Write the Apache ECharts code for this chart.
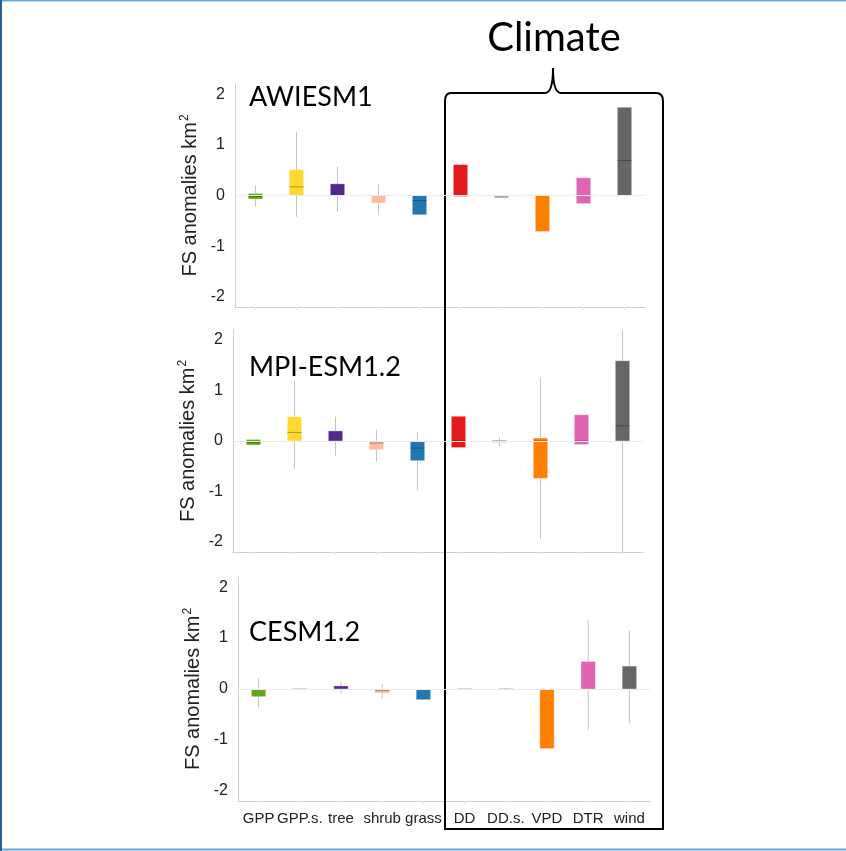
<!DOCTYPE html>
<html>
<head>
<meta charset="utf-8">
<script src="https://cdn.jsdelivr.net/npm/echarts@6/dist/echarts.min.js"></script>
<style>
  html, body { margin: 0; padding: 0; background: #fff; }
  #chart { width: 846px; height: 851px; }
</style>
</head>
<body>
<div id="chart"></div>
<script>
// categories and colours, shared by the three panels
const categories = ['GPP', 'GPP.s.', 'tree', 'shrub', 'grass', 'DD', 'DD.s.', 'VPD', 'DTR', 'wind'];
const boxColors = ['#66a61e', '#ffd92f', '#54278f', '#fcbba1', '#1f78b4', '#e31a1c', '#aaaaaa', '#ff7f00', '#df65b0', '#666666'];
const models = ['AWIESM1', 'MPI-ESM1.2', 'CESM1.2'];
const yTicks = [-2, -1, 0, 1, 2];

// AWIESM1
const awiLow = [-0.22, -0.42, -0.33, -0.39, -0.38, -0.02, -0.05, -0.71, -0.16, 0];
const awiQ1 = [-0.07, 0, 0, -0.15, -0.38, -0.02, -0.05, -0.71, -0.16, 0];
const awiMed = [-0.02, 0.17, null, null, -0.1, 0, null, null, 0, 0.69];
const awiQ3 = [0.04, 0.51, 0.23, 0, 0, 0.61, 0, 0, 0.35, 1.74];
const awiHigh = [0.2, 1.26, 0.57, 0.23, 0, 0.61, 0, 0, 0.35, 1.74];

// MPI-ESM1.2
const mpiLow = [-0.08, -0.56, -0.29, -0.41, -0.97, -0.13, -0.11, -1.94, -0.07, -2.2];
const mpiQ1 = [-0.08, 0, 0, -0.17, -0.39, -0.13, -0.03, -0.74, -0.07, 0];
const mpiMed = [-0.03, 0.17, null, -0.04, -0.14, 0, 0, 0, 0, 0.3];
const mpiQ3 = [0.03, 0.48, 0.2, 0, 0, 0.49, 0.01, 0.06, 0.52, 1.59];
const mpiHigh = [0.03, 1.19, 0.48, 0.22, 0.17, 0.49, 0.07, 1.26, 0.52, 2.2];

// CESM1.2
const cesmLow = [-0.37, 0, -0.09, -0.19, -0.21, 0, -0.02, -1.17, -0.8, -0.67];
const cesmQ1 = [-0.15, 0, 0, -0.08, -0.21, 0, 0, -1.17, 0, 0];
const cesmMed = [null, 0, null, -0.03, null, 0, 0, null, null, null];
const cesmQ3 = [0, 0, 0.06, 0, 0, 0, 0, 0, 0.54, 0.45];
const cesmHigh = [0.21, 0, 0.15, 0.1, 0, 0, 0.02, 0, 1.35, 1.14];

const panels = [
  { low: awiLow, q1: awiQ1, med: awiMed, q3: awiQ3, high: awiHigh },
  { low: mpiLow, q1: mpiQ1, med: mpiMed, q3: mpiQ3, high: mpiHigh },
  { low: cesmLow, q1: cesmQ1, med: cesmMed, q3: cesmQ3, high: cesmHigh }
];

const grids = [
  { left: 235, top: 84, width: 410, height: 223 },
  { left: 233, top: 330, width: 410, height: 222 },
  { left: 238, top: 577, width: 412, height: 224 }
];

const axisGray = '#cfcfcf';
const textGray = '#222';

function makeRenderer(p) {
  return function (params, api) {
    const i = api.value(0);
    const w = api.size([1, 0])[0] * 0.35;
    const lo = api.coord([i, api.value(1)]);
    const b1 = api.coord([i, api.value(2)]);
    const b3 = api.coord([i, api.value(3)]);
    const hi = api.coord([i, api.value(4)]);
    const children = [];
    if (Math.abs(lo[1] - hi[1]) > 0.5) {
      children.push({
        type: 'line',
        shape: { x1: lo[0], y1: lo[1], x2: hi[0], y2: hi[1] },
        style: { stroke: '#c4c4c4', lineWidth: 1 }
      });
    }
    const h = Math.abs(b1[1] - b3[1]);
    if (h > 0.5) {
      children.push({
        type: 'rect',
        shape: { x: b1[0] - w / 2, y: Math.min(b1[1], b3[1]), width: w, height: h },
        style: { fill: boxColors[i], stroke: 'rgba(255,255,255,0.35)', lineWidth: 1 }
      });
    }
    const m = p.med[params.dataIndex];
    if (m !== null) {
      const pm = api.coord([i, m]);
      children.push({
        type: 'line',
        shape: { x1: pm[0] - w / 2, y1: pm[1], x2: pm[0] + w / 2, y2: pm[1] },
        style: { stroke: 'rgba(0,0,0,0.3)', lineWidth: 1 }
      });
    }
    return { type: 'group', children: children };
  };
}

const chart = echarts.init(document.getElementById('chart'), null, { renderer: 'canvas' });

const xAxes = grids.map((g, k) => ({
  type: 'category',
  gridIndex: k,
  data: categories,
  boundaryGap: true,
  axisLine: { onZero: false, lineStyle: { color: axisGray, width: 1 } },
  axisTick: { show: true, alignWithLabel: true, length: 3, lineStyle: { color: '#e4e4e4' } },
  axisLabel: {
    show: k === 2,
    interval: 0,
    margin: 10,
    color: textGray,
    fontFamily: 'Liberation Sans, Arial, sans-serif',
    fontSize: 15
  }
}));

const yAxes = grids.map((g, k) => ({
  type: 'value',
  gridIndex: k,
  min: -2.2,
  max: 2.2,
  name: '{a|FS anomalies km}{s|2}',
  nameLocation: 'middle',
  nameRotate: 90,
  nameGap: 34,
  nameTextStyle: {
    rich: {
      a: { fontFamily: 'Liberation Sans, Arial, sans-serif', fontSize: 20, color: textGray },
      s: { fontFamily: 'Liberation Sans, Arial, sans-serif', fontSize: 12, color: textGray, verticalAlign: 'top', padding: [0, 0, 10, 1] }
    }
  },
  axisLine: { show: true, lineStyle: { color: axisGray, width: 1 } },
  axisTick: { show: false },
  splitLine: { show: false },
  axisLabel: {
    customValues: yTicks,
    margin: 10,
    color: textGray,
    fontFamily: 'Liberation Sans, Arial, sans-serif',
    fontSize: 16
  }
}));

const series = panels.map((p, k) => ({
  type: 'custom',
  xAxisIndex: k,
  yAxisIndex: k,
  renderItem: makeRenderer(p),
  encode: { x: 0, y: [1, 2, 3, 4] },
  data: categories.map((c, i) => [i, p.low[i], p.q1[i], p.q3[i], p.high[i]]),
  markLine: {
    silent: true,
    symbol: 'none',
    label: { show: false },
    lineStyle: { color: '#ebebeb', type: 'solid', width: 1 },
    data: [{ yAxis: 0 }]
  },
  z: 3
}));

const labelTops = [97, 367, 632];
const modelLabels = models.map((name, k) => ({
  type: 'text',
  x: 249,
  y: labelTops[k],
  style: {
    text: name,
    fill: '#000',
    font: '27px Lato, "Open Sans", sans-serif',
    verticalAlign: 'middle'
  },
  z: 10
}));

// bracket around the climate drivers
const bx0 = 445, bx1 = 663, by0 = 93, by1 = 829, bMid = 553, bTip = 68;
const bStyle = { fill: 'none', stroke: '#000', lineWidth: 2 };
const bracket = [
  { type: 'polyline', shape: { points: [[bx0, by0 + 8], [bx0, by1], [bx1, by1], [bx1, by0 + 8]] }, style: bStyle },
  { type: 'line', shape: { x1: bx0 + 6, y1: by0, x2: bMid - 8, y2: by0 }, style: bStyle },
  { type: 'line', shape: { x1: bMid + 8, y1: by0, x2: bx1 - 7, y2: by0 }, style: bStyle },
  { type: 'bezierCurve', shape: { x1: bx0, y1: by0 + 8, cpx1: bx0, cpy1: by0, x2: bx0 + 6, y2: by0 }, style: bStyle },
  { type: 'bezierCurve', shape: { x1: bMid - 8, y1: by0, cpx1: bMid, cpy1: by0, x2: bMid, y2: bTip }, style: bStyle },
  { type: 'bezierCurve', shape: { x1: bMid, y1: bTip, cpx1: bMid, cpy1: by0, x2: bMid + 8, y2: by0 }, style: bStyle },
  { type: 'bezierCurve', shape: { x1: bx1 - 7, y1: by0, cpx1: bx1, cpy1: by0, x2: bx1, y2: by0 + 8 }, style: bStyle }
].map(e => Object.assign(e, { z: 5 }));

chart.setOption({
  animation: false,
  backgroundColor: '#fff',
  grid: grids,
  xAxis: xAxes,
  yAxis: yAxes,
  series: series,
  graphic: [
    ...modelLabels,
    {
      type: 'text',
      x: 554,
      y: 38,
      style: {
        text: 'Climate',
        fill: '#000',
        font: '40px Lato, "Open Sans", sans-serif',
        align: 'center',
        verticalAlign: 'middle'
      }
    },
    ...bracket,
    // slide frame
    { type: 'line', shape: { x1: 0, y1: 0.5, x2: 846, y2: 0.5 }, style: { stroke: '#6fa8dc', lineWidth: 2 } },
    { type: 'line', shape: { x1: 0, y1: 849.5, x2: 846, y2: 849.5 }, style: { stroke: '#6fa8dc', lineWidth: 2 } },
    { type: 'line', shape: { x1: 1, y1: 0, x2: 1, y2: 851 }, style: { stroke: '#2a5f95', lineWidth: 2 } }
  ]
});
</script>
</body>
</html>
